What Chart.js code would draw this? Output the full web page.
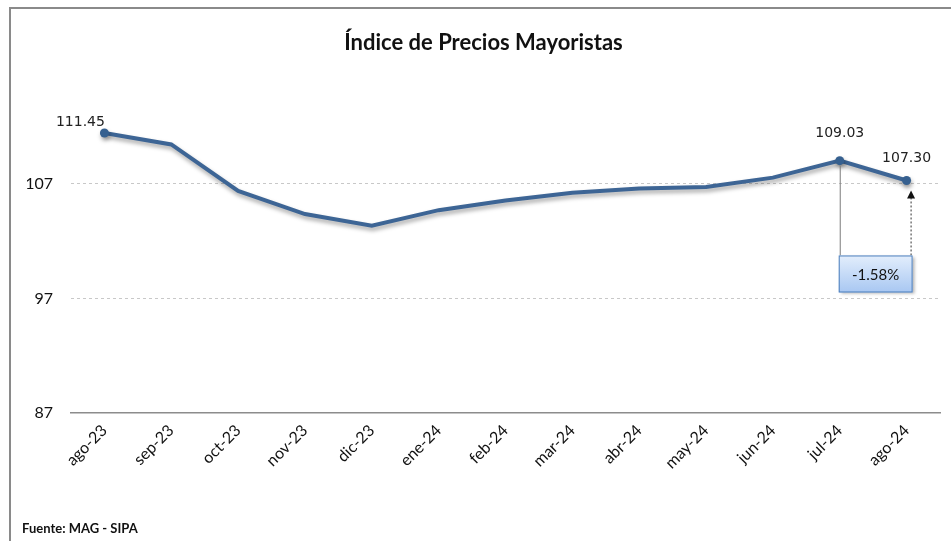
<!DOCTYPE html>
<html>
<head>
<meta charset="utf-8">
<script src="https://cdn.jsdelivr.net/npm/chart.js@4.4.1/dist/chart.umd.min.js"></script>
<style>
  body { margin: 0; background: #fff; }
  #wrap { position: relative; width: 951px; height: 541px; }
</style>
</head>
<body>
<div id="wrap"><canvas id="ipm" width="951" height="541"></canvas></div>
<script>
// datos
var meses = ["ago-23", "sep-23", "oct-23", "nov-23", "dic-23", "ene-24", "feb-24",
             "mar-24", "abr-24", "may-24", "jun-24", "jul-24", "ago-24"];
var indice = [111.45, 110.45, 106.39, 104.37, 103.35, 104.71, 105.55,
              106.22, 106.6, 106.74, 107.55, 109.03, 107.30];
var ticksY = [87, 97, 107];
var etiquetas = [0, 11, 12];       // puntos con valor visible
var variacion = "-1.58%";

var azul = "#3d6595";

// marco, sombra de la linea, etiquetas y anotacion
var extras = {
  id: "extras",
  beforeDraw: function(chart) {
    var ctx = chart.ctx;
    ctx.save();
    ctx.fillStyle = "#fff";
    ctx.fillRect(0, 0, chart.width, chart.height);
    ctx.strokeStyle = "#8a8a8a";
    ctx.lineWidth = 2;
    ctx.beginPath();
    ctx.moveTo(10, 541);
    ctx.lineTo(10, 8);
    ctx.lineTo(951, 8);
    ctx.stroke();
    ctx.restore();
  },
  beforeDatasetDraw: function(chart) {
    var ctx = chart.ctx;
    ctx.save();
    ctx.shadowColor = "rgba(0,0,0,0.35)";
    ctx.shadowBlur = 4;
    ctx.shadowOffsetX = 1;
    ctx.shadowOffsetY = 3;
  },
  afterDatasetDraw: function(chart) {
    chart.ctx.restore();
  },
  afterDatasetsDraw: function(chart) {
    var ctx = chart.ctx;
    var xs = chart.scales.x, ys = chart.scales.y;
    var pts = chart.getDatasetMeta(0).data;
    ctx.save();

    // valores
    ctx.font = "14px 'DejaVu Sans'";
    ctx.fillStyle = "#222";
    ctx.textAlign = "center";
    ctx.textBaseline = "middle";
    etiquetas.forEach(function(i) {
      var dx = i === 0 ? -24 : 0;
      var dy = i === 0 ? -11 : (i === 11 ? -27 : -22);
      ctx.fillText(indice[i].toFixed(2), pts[i].x + dx, pts[i].y + dy);
    });

    // anotacion de variacion
    var p1 = pts[11], p2 = pts[12];
    var bTop = ys.getPixelForValue(97) - 43;
    var bBot = bTop + 37;
    var bL = p1.x - 1, bR = p2.x + 6;

    ctx.strokeStyle = "#7a7a7a";
    ctx.lineWidth = 1;
    ctx.beginPath();
    ctx.moveTo(p1.x + 0.5, p1.y + 5);
    ctx.lineTo(p1.x + 0.5, bTop);
    ctx.stroke();

    ctx.strokeStyle = "#333";
    ctx.setLineDash([2, 2]);
    ctx.beginPath();
    ctx.moveTo(bR - 1.5, bTop);
    ctx.lineTo(bR - 1.5, p2.y + 16);
    ctx.stroke();
    ctx.setLineDash([]);
    ctx.fillStyle = "#111";
    ctx.beginPath();
    ctx.moveTo(bR - 1.5, p2.y + 10);
    ctx.lineTo(bR - 5.5, p2.y + 18);
    ctx.lineTo(bR + 2.5, p2.y + 18);
    ctx.closePath();
    ctx.fill();

    ctx.shadowColor = "rgba(0,0,0,0.3)";
    ctx.shadowBlur = 3;
    ctx.shadowOffsetX = 2;
    ctx.shadowOffsetY = 2;
    var g = ctx.createLinearGradient(0, bTop, 0, bBot);
    g.addColorStop(0, "#e3eefc");
    g.addColorStop(1, "#a8c7f2");
    ctx.fillStyle = g;
    ctx.fillRect(bL, bTop, bR - bL, bBot - bTop);
    ctx.shadowColor = "transparent";
    ctx.strokeStyle = "#4f81bd";
    ctx.strokeRect(bL + 0.5, bTop + 0.5, bR - bL - 1, bBot - bTop - 1);

    ctx.fillStyle = "#111";
    ctx.font = "15px Lato";
    ctx.fillText(variacion, (bL + bR) / 2, (bTop + bBot) / 2 + 1);

    // fuente
    ctx.textAlign = "left";
    ctx.font = "bold 13px Lato";
    ctx.fillText("Fuente: MAG - SIPA", 22, 529);
    ctx.restore();
  }
};

var ctx = document.getElementById("ipm").getContext("2d");
var chart = new Chart(ctx, {
  type: "line",
  data: {
    labels: meses,
    datasets: [{
      data: indice,
      borderColor: azul,
      borderWidth: 4,
      tension: 0,
      backgroundColor: azul,
      pointRadius: indice.map(function(v, i) { return etiquetas.indexOf(i) >= 0 ? 4.5 : 0; }),
      pointBackgroundColor: "#36608f",
      pointBorderWidth: 0
    }]
  },
  options: {
    responsive: false,
    animation: false,
    layout: { padding: { left: 27, right: 11, top: 22, bottom: 0 } },
    plugins: {
      legend: { display: false },
      tooltip: { enabled: false },
      title: {
        display: true,
        text: "Índice de Precios Mayoristas",
        color: "#111",
        font: { family: "Lato", size: 22, weight: "bold" },
        padding: { top: 8, bottom: 13 }
      }
    },
    scales: {
      x: {
        offset: true,
        grid: { display: false, drawTicks: false },
        border: { display: true, color: "#8c8c8c", width: 1.5 },
        ticks: {
          color: "#111",
          font: { family: "Lato", size: 16 },
          minRotation: 45,
          maxRotation: 45,
          padding: 8
        },
        afterFit: function(s) { s.height = 128; }
      },
      y: {
        min: 87,
        max: 117,
        afterBuildTicks: function(s) {
          s.ticks = ticksY.map(function(v) { return { value: v }; });
        },
        grid: {
          color: "#c8c8c8",
          lineWidth: function(c) { return c.tick.value === 87 ? 0 : 1; },
          drawTicks: false
        },
        border: { display: false, dash: [3, 3] },
        ticks: {
          color: "#111",
          font: { family: "Lato", size: 16 },
          padding: 18
        },
        afterFit: function(s) { s.width = 44; }
      }
    }
  },
  plugins: [extras]
});
</script>
</body>
</html>
